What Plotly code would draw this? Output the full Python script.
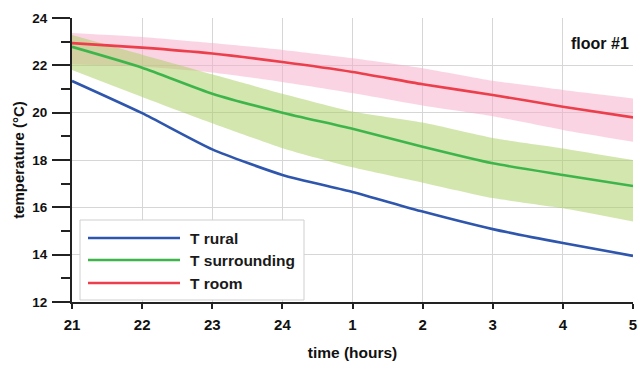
import plotly.graph_objects as go

# ---- data ----
hour_labels = ["21", "22", "23", "24", "1", "2", "3", "4", "5"]
x_idx = list(range(len(hour_labels)))

t_rural = [21.34, 19.98, 18.45, 17.37, 16.65, 15.82, 15.08, 14.49, 13.95]
t_surr = [22.78, 21.9, 20.8, 20.0, 19.32, 18.56, 17.86, 17.37, 16.9]
t_surr_hi = [23.28, 22.45, 21.62, 20.8, 20.05, 19.58, 18.93, 18.49, 18.0]
t_surr_lo = [21.8, 20.66, 19.55, 18.5, 17.69, 17.04, 16.39, 15.96, 15.4]
t_room = [22.94, 22.75, 22.5, 22.14, 21.72, 21.2, 20.75, 20.25, 19.8]
t_room_hi = [23.37, 23.2, 22.94, 22.65, 22.3, 21.88, 21.35, 20.96, 20.6]
t_room_lo = [22.05, 21.95, 21.7, 21.3, 20.83, 20.3, 19.85, 19.27, 18.77]

names = ["T rural", "T surrounding", "T room"]
colors = ["#2f56ad", "#3db54b", "#ec3f4b"]
band_colors = {"room": "rgba(245,170,200,0.5)", "surr": "rgba(170,208,100,0.52)"}

fig = go.Figure()

# bands
for lo, hi, col in [(t_room_lo, t_room_hi, band_colors["room"]),
                    (t_surr_lo, t_surr_hi, band_colors["surr"])]:
    fig.add_trace(go.Scatter(x=x_idx, y=hi, mode="lines", line=dict(width=0, shape="spline", smoothing=0.5),
                             showlegend=False, hoverinfo="skip"))
    fig.add_trace(go.Scatter(x=x_idx, y=lo, mode="lines", line=dict(width=0, shape="spline", smoothing=0.5),
                             fill="tonexty", fillcolor=col, showlegend=False, hoverinfo="skip"))

for ys, nm, col in [(t_rural, names[0], colors[0]), (t_surr, names[1], colors[1]), (t_room, names[2], colors[2])]:
    fig.add_trace(go.Scatter(x=x_idx, y=ys, mode="lines", name=nm,
                             line=dict(color=col, width=2.6, shape="spline", smoothing=0.6),
                             showlegend=False))

L, R, T, B = 72, 633, 18, 302
W, H = 640, 365
def px(xp):
    return (xp - L) / (R - L)
def py(yp):
    return (B - yp) / (B - T)

# manual legend
shapes = [dict(type="rect", xref="paper", yref="paper", x0=px(80), x1=px(304), y0=py(300), y1=py(220),
               line=dict(color="#cfcfcf", width=1), fillcolor="white", layer="above")]
annotations = []
for i, (nm, col) in enumerate(zip(names, colors)):
    yy = [238, 260, 283][i]
    shapes.append(dict(type="line", xref="paper", yref="paper", x0=px(88), x1=px(180), y0=py(yy), y1=py(yy),
                       line=dict(color=col, width=2.6), layer="above"))
    annotations.append(dict(text=nm, xref="paper", yref="paper", x=px(188), y=py(yy), xanchor="left",
                            yanchor="middle", showarrow=False,
                            font=dict(size=15.5, color="#1a1a1a", weight="bold")))

annotations.append(dict(text="floor #1", xref="paper", yref="paper", x=px(631), y=py(43), xanchor="right",
                        yanchor="middle", showarrow=False, font=dict(size=16, color="#111", weight="bold")))

fig.update_layout(
    width=W, height=H,
    margin=dict(l=L, r=W - R, t=T, b=H - B),
    paper_bgcolor="white", plot_bgcolor="white",
    font=dict(family="Liberation Sans, Arial, sans-serif", color="#111"),
    shapes=shapes, annotations=annotations,
    showlegend=False,
)
fig.update_xaxes(
    range=[0, 8], tickmode="array", tickvals=x_idx, ticktext=hour_labels,
    showgrid=True, gridcolor="#d6d6d6", gridwidth=1,
    showline=True, linecolor="#222", linewidth=2,
    ticks="outside", ticklen=5, tickwidth=2, tickcolor="#222",
    tickfont=dict(size=15, weight="bold"), ticklabelstandoff=3, ticklabeloverflow="allow",
    title=dict(text="time (hours)", font=dict(size=15.5, weight="bold"), standoff=15),
    zeroline=False, fixedrange=True, automargin=False,
)
fig.update_yaxes(
    range=[12, 24], dtick=2, tick0=12,
    showgrid=True, gridcolor="#d6d6d6", gridwidth=1,
    showline=True, linecolor="#222", linewidth=2,
    ticks="outside", ticklen=18, tickwidth=2, tickcolor="#222",
    minor=dict(dtick=1, ticks="outside", ticklen=9, tickwidth=2, tickcolor="#222", showgrid=False),
    tickfont=dict(size=13.5, weight="bold"), ticklabelstandoff=2,
    title=dict(text="temperature (°C)", font=dict(size=15, weight="bold"), standoff=4),
    zeroline=False, fixedrange=True, automargin=False,
)

fig.write_html("out.html")
